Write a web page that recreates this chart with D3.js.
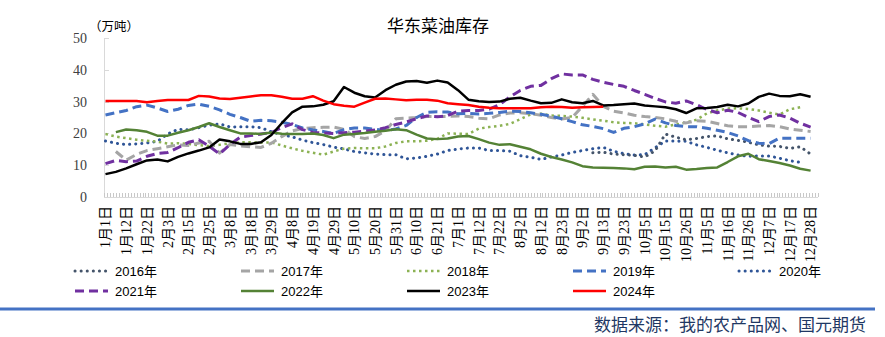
<!DOCTYPE html>
<html><head><meta charset="utf-8">
<script src="https://cdn.jsdelivr.net/npm/d3@7"></script>
<style>body{margin:0;background:#fff}svg{display:block}</style>
</head><body>
<svg id="c" width="885" height="337"></svg>
<script>
// ---------- DATA ----------
const tickLabels = ["1月1日","1月12日","1月22日","2月3日","2月15日","2月25日","3月8日","3月18日","3月29日","4月8日","4月19日","4月29日","5月10日","5月20日","5月31日","6月10日","6月21日","7月1日","7月12日","7月22日","8月2日","8月12日","8月23日","9月2日","9月13日","9月23日","10月5日","10月15日","10月26日","11月5日","11月16日","11月26日","12月7日","12月17日","12月28日"];
const yTicks = [0,10,20,30,40,50];
const seriesNames = ["2016年","2017年","2018年","2019年","2020年","2021年","2022年","2023年","2024年"];
// values sampled every half label interval (69 samples), unit: 万吨
const s2016 = [null,null,null,null,null,null,null,null,null,null,null,null,null,null,null,null,null,null,null,null,null,null,null,null,null,null,null,null,null,null,null,null,null,null,null,null,null,null,null,null,null,null,null,null,null,null,null,
  13.9,14.1,13.5,13.3,13.1,12.6,14.5,19.8,18.8,18.0,18.4,19.0,19.2,18.3,17.8,17.2,16.4,16.0,15.9,15.3,15.8,13.5];
const s2017 = [null,14.3,11.6,13.4,14.6,15.2,15.8,16.4,16.2,17.0,17.5,13.8,16.5,16.1,15.8,15.6,16.9,19.0,20.8,21.5,21.8,21.9,22.0,21.3,19.0,18.4,19.0,20.8,24.6,24.8,25.0,25.3,25.3,25.3,25.5,25.3,24.8,24.6,25.8,26.4,26.5,26.2,25.7,25.0,24.5,25.0,28.5,32.3,28.5,27.0,26.4,25.7,25.3,25.0,24.6,23.8,23.3,24.0,23.8,23.1,22.4,22.1,22.1,22.3,22.5,22.1,21.4,21.0,20.6];
const s2018 = [19.8,19.0,18.5,18.0,17.7,17.4,16.8,16.9,16.7,16.3,16.0,16.4,16.9,17.2,17.2,17.1,17.2,16.2,15.3,14.5,13.9,13.3,14.3,15.2,15.4,15.3,15.3,15.9,17.0,17.5,17.5,17.7,18.3,20.0,19.9,19.8,21.5,22.0,22.4,23.0,24.5,26.0,26.2,25.6,25.5,25.3,24.9,24.4,24.0,23.5,23.3,23.2,22.8,22.4,22.1,22.8,23.4,24.3,26.3,27.2,27.8,27.9,27.7,27.2,26.5,25.9,27.6,28.2,null];
const s2019 = [25.8,26.5,27.2,28.4,28.9,28.0,26.9,27.6,28.8,29.2,28.5,27.4,26.0,25.0,23.8,24.1,24.0,23.5,22.8,21.7,21.1,20.6,20.0,21.2,21.7,21.7,21.3,20.9,21.4,22.5,25.0,26.6,26.8,26.7,26.2,26.3,26.1,26.3,26.6,27.0,26.9,26.5,26.0,25.4,24.6,23.7,22.7,22.2,21.5,20.3,21.6,22.1,23.0,24.5,23.3,22.5,22.1,22.1,21.6,21.0,20.3,19.2,17.7,16.9,16.8,18.5,18.5,18.5,18.5];
const s2020 = [17.6,16.9,16.5,16.7,17.0,17.5,19.8,21.3,21.1,21.8,22.6,23.0,22.0,22.1,22.1,21.8,20.5,19.6,18.9,17.9,17.1,16.5,15.7,15.1,14.3,13.9,13.5,13.3,13.3,12.0,12.3,12.8,13.5,14.6,15.1,15.4,15.4,14.6,14.6,14.4,13.0,12.5,11.8,12.6,13.2,14.0,14.6,15.2,15.6,14.4,13.6,13.2,13.3,15.5,17.6,17.6,17.5,16.4,15.6,14.7,13.9,13.2,12.8,12.9,12.9,12.2,11.4,10.9,null];
const s2021 = [10.5,11.5,11.1,11.3,12.8,13.7,14.0,15.5,17.2,18.0,16.0,13.5,16.5,18.8,19.3,19.8,20.3,21.8,23.0,21.2,20.3,20.1,20.0,20.2,20.4,20.7,21.1,21.8,22.8,23.6,24.6,25.5,25.2,25.6,27.0,27.2,27.2,27.6,29.0,31.5,33.5,34.8,35.1,37.2,38.7,38.4,38.4,37.0,36.1,35.4,34.8,33.5,32.3,31.0,29.9,29.5,30.2,29.0,27.5,26.5,27.3,26.6,25.0,23.7,25.3,25.8,24.8,23.2,22.0];
const s2022 = [null,20.4,21.2,21.0,20.5,19.3,19.3,20.2,21.0,22.0,23.2,22.0,21.0,20.0,20.0,19.8,20.3,19.9,19.8,19.8,20.0,19.5,18.5,19.6,19.8,20.1,20.5,20.8,21.3,21.0,19.6,18.4,18.2,18.4,19.0,19.2,18.2,17.1,16.4,16.6,15.8,15.0,13.6,12.6,11.8,10.9,9.7,9.3,9.2,9.1,9.0,8.7,9.5,9.6,9.3,9.5,8.6,8.8,9.1,9.3,11.0,12.8,13.6,11.9,11.3,10.7,9.9,8.9,8.3];
const s2023 = [7.2,7.9,9.0,10.3,11.5,11.8,11.2,12.6,13.7,14.6,15.6,18.1,17.5,16.7,16.7,17.2,19.5,23.2,26.6,28.4,28.5,29.0,30.1,34.6,32.8,31.7,31.3,33.6,35.3,36.3,36.5,35.9,36.6,36.0,33.6,30.6,30.1,29.9,30.0,30.9,31.2,30.3,29.5,29.6,30.7,29.8,29.5,30.2,28.8,28.9,29.2,29.4,28.8,28.5,28.2,27.6,26.4,27.9,28.0,28.3,29.0,28.5,29.4,31.5,32.5,31.8,31.7,32.3,31.5];
const s2024 = [30.2,30.2,30.2,30.2,29.8,30.2,30.5,30.5,30.5,31.8,31.6,31.0,30.8,31.2,31.6,32.0,32.0,31.5,30.9,30.9,31.7,30.3,29.2,28.7,28.4,29.7,30.9,31.0,30.7,30.4,30.6,30.6,30.3,29.5,29.2,28.9,28.4,28.1,27.9,27.9,27.9,27.9,28.2,28.4,28.3,28.1,28.2,28.3,28.4,
  null,null,null,null,null,null,null,null,null,null,null,null,null,null,null,null,null,null,null,null];

// ---------- STYLE ----------
const seriesData = [s2016,s2017,s2018,s2019,s2020,s2021,s2022,s2023,s2024];
const styles = [
  {c:"#44546A", w:3,   dash:"0.1 6",  cap:"round"},
  {c:"#A5A5A5", w:3,   dash:"9 5",    cap:"butt"},
  {c:"#8CB254", w:2.5, dash:"2.5 3.5",cap:"butt"},
  {c:"#4472C4", w:3,   dash:"9 5",    cap:"butt"},
  {c:"#2F5597", w:3,   dash:"0.1 6",  cap:"round"},
  {c:"#7030A0", w:3,   dash:"9 5",    cap:"butt"},
  {c:"#548235", w:2.5, dash:null,     cap:"butt"},
  {c:"#000000", w:2.5, dash:null,     cap:"butt"},
  {c:"#FF0000", w:2.5, dash:null,     cap:"butt"}
];

const svg = d3.select("#c");
const plotL = 104, plotR = 818, plotT = 38, plotB = 197;
const catsOnAxis = 241;          // daily categories on the axis
const perLabel = 7;              // a label every 7 categories
const perSample = perLabel / 2;  // one data sample every half label step
const x = d3.scaleLinear().domain([-0.5, catsOnAxis - 0.5]).range([plotL, plotR]);
const y = d3.scaleLinear().domain([0, 50]).range([plotB, plotT]);

// axes lines
svg.append("line").attr("x1",plotL+0.5).attr("x2",plotL+0.5).attr("y1",plotT).attr("y2",plotB)
  .attr("stroke","#D9D9D9").attr("stroke-width",1);
svg.append("line").attr("x1",plotL).attr("x2",plotR).attr("y1",plotB+0.5).attr("y2",plotB+0.5)
  .attr("stroke","#D9D9D9").attr("stroke-width",1);

// y ticks and labels
const yAxis = svg.append("g");
yAxis.selectAll("line").data(yTicks).join("line")
  .attr("x1",plotL).attr("x2",plotL+5)
  .attr("y1",d=>Math.round(y(d))+0.5).attr("y2",d=>Math.round(y(d))+0.5)
  .attr("stroke","#D9D9D9");
yAxis.selectAll("text").data(yTicks).join("text")
  .attr("x",87).attr("y",d=>y(d)).attr("dy","0.35em")
  .attr("text-anchor","end")
  .attr("font-family","'Liberation Serif','Times New Roman',serif")
  .attr("font-size",14).attr("fill","#404040")
  .text(d=>d);

// x minor ticks (one per category boundary)
const bounds = d3.range(-0.5, catsOnAxis, 1);
svg.append("g").selectAll("line").data(bounds).join("line")
  .attr("x1",d=>Math.round(x(d))+0.5).attr("x2",d=>Math.round(x(d))+0.5)
  .attr("y1",plotB-4).attr("y2",plotB)
  .attr("stroke","#C8C8C8").attr("stroke-width",1);

// x labels
svg.append("g").selectAll("text").data(tickLabels).join("text")
  .attr("transform",(d,i)=>`translate(${x(i*perLabel)},206) rotate(-90)`)
  .attr("text-anchor","end").attr("dy","0.35em")
  .attr("font-family","'Liberation Serif','Times New Roman','Noto Sans CJK SC',serif")
  .attr("font-size",14).attr("fill","#000")
  .text(d=>d);

// lines
const line = d3.line().defined(d=>d!=null).x((d,i)=>x(i*perSample)).y(d=>y(d));
const drawOrder = [4,0,2,1,3,5,6,7,8];
drawOrder.forEach(si=>{
  const st = styles[si];
  svg.append("path").datum(seriesData[si])
    .attr("d", line).attr("fill","none")
    .attr("stroke",st.c).attr("stroke-width",st.w)
    .attr("stroke-dasharray",st.dash).attr("stroke-linecap",st.cap)
    .attr("stroke-linejoin","round");
});

// title & unit
svg.append("text").attr("x",438).attr("y",32).attr("text-anchor","middle")
  .attr("font-family","'Noto Sans CJK SC',sans-serif").attr("font-size",17).attr("fill","#000")
  .text("华东菜油库存");
svg.append("text").attr("x",89).attr("y",31)
  .attr("font-family","'Noto Sans CJK SC',sans-serif").attr("font-size",12.5).attr("fill","#000")
  .text("（万吨）");

// legend
const legend = svg.append("g");
seriesNames.forEach((name,i)=>{
  const row = i < 5 ? 0 : 1;
  const col = i < 5 ? i : i - 5;
  const lx = 75 + col*166, ly = row===0 ? 271 : 291;
  const st = styles[i];
  legend.append("line").attr("x1",lx).attr("x2",lx+33).attr("y1",ly).attr("y2",ly)
    .attr("stroke",st.c).attr("stroke-width",st.w)
    .attr("stroke-dasharray",st.dash).attr("stroke-linecap",st.cap);
  legend.append("text").attr("x",lx+40).attr("y",ly).attr("dy","0.35em")
    .attr("font-family","'Liberation Sans',Arial,'Noto Sans CJK SC',sans-serif")
    .attr("font-size",13).attr("fill","#000").text(name);
});

// footer
svg.append("line").attr("x1",0).attr("x2",875).attr("y1",309).attr("y2",309)
  .attr("stroke","#4472C4").attr("stroke-width",3);
svg.append("text").attr("x",866).attr("y",331).attr("text-anchor","end")
  .attr("font-family","'Noto Sans CJK SC',sans-serif").attr("font-size",17).attr("fill","#1F3864")
  .text("数据来源：我的农产品网、国元期货");
</script>
</body></html>
